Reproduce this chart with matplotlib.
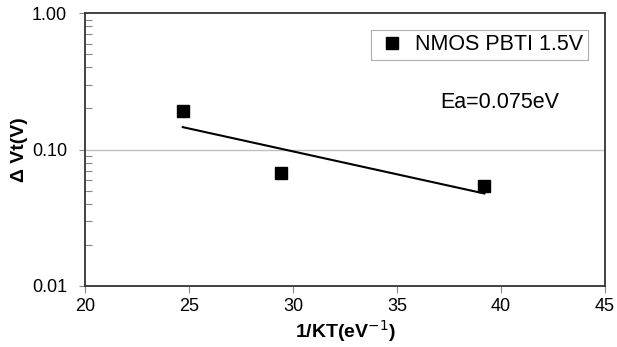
import numpy as np
import matplotlib as mpl
import matplotlib.pyplot as plt
from matplotlib.ticker import LogLocator, FixedLocator, NullFormatter

mpl.rc("figure", facecolor="white")
plt.rcParams['font.family'] = ['Liberation Sans', 'DejaVu Sans']

# data
inv_kt = [24.7, 29.4, 39.2]
dvt = [0.192, 0.0676, 0.0542]
series_name = 'NMOS PBTI 1.5V'
ea_text = 'Ea=0.075eV'
x_ticks = [20, 25, 30, 35, 40, 45]
y_ticks = [0.01, 0.1, 1.0]
y_ticklabels = ['0.01', '0.10', '1.00']

fig = plt.figure(figsize=(6.17, 3.47), dpi=100)
ax = fig.add_axes([85 / 617, 1 - 285.7 / 347, 520 / 617, 272.4 / 347])

# exponential trend line (fit of log y vs x)
coef = np.polyfit(inv_kt, np.log(dvt), 1)
xs = np.linspace(min(inv_kt), max(inv_kt), 50)
ax.plot(xs, np.exp(np.polyval(coef, xs)), color='black', lw=1.5, zorder=3)

ax.plot(inv_kt, dvt, linestyle='none', marker='s', markersize=9.3,
        color='black', label=series_name, zorder=4)

ax.set_yscale('log')
ax.set_xlim(20, 45)
ax.set_ylim(0.01, 1.0)

ax.xaxis.set_major_locator(FixedLocator(x_ticks))
ax.set_xticklabels([str(t) for t in x_ticks])
ax.yaxis.set_major_locator(FixedLocator(y_ticks))
ax.set_yticklabels(y_ticklabels)
ax.yaxis.set_minor_locator(LogLocator(base=10, subs=np.arange(2, 10)))
ax.yaxis.set_minor_formatter(NullFormatter())

ax.tick_params(axis='x', which='major', direction='out', length=5, width=0.8,
               color='#888888', labelsize=13, pad=4)
ax.tick_params(axis='y', which='major', direction='out', length=4, width=0.8,
               color='#888888', labelsize=13, pad=9)
ax.tick_params(axis='y', which='minor', direction='in', length=5, width=0.8,
               color='#888888')

ax.axhline(0.1, color='#c0c0c0', lw=1, zorder=1)

for sp in ax.spines.values():
    sp.set_color('#333333')
    sp.set_linewidth(1.3)

ax.set_xlabel('1/KT(eV$^{-1}$)', fontsize=14, fontweight='bold')
ax.xaxis.set_label_coords(0.5, -0.118)
ax.set_ylabel('Δ Vt(V)', fontsize=14, fontweight='bold')
ax.yaxis.set_label_coords(-0.11, 0.5)

ax.text(0.798, 0.671, ea_text, transform=ax.transAxes, fontsize=15.5,
        ha='center', va='center')

leg = ax.legend(loc='upper right', bbox_to_anchor=(0.967, 0.939), fontsize=15.5,
                frameon=True, fancybox=False, borderpad=0.2, handlelength=1.5,
                handletextpad=0.35, borderaxespad=0, markerscale=0.95)
leg.get_frame().set_edgecolor('#999999')
leg.get_frame().set_linewidth(0.8)

fig.savefig('out.png', dpi=100)
